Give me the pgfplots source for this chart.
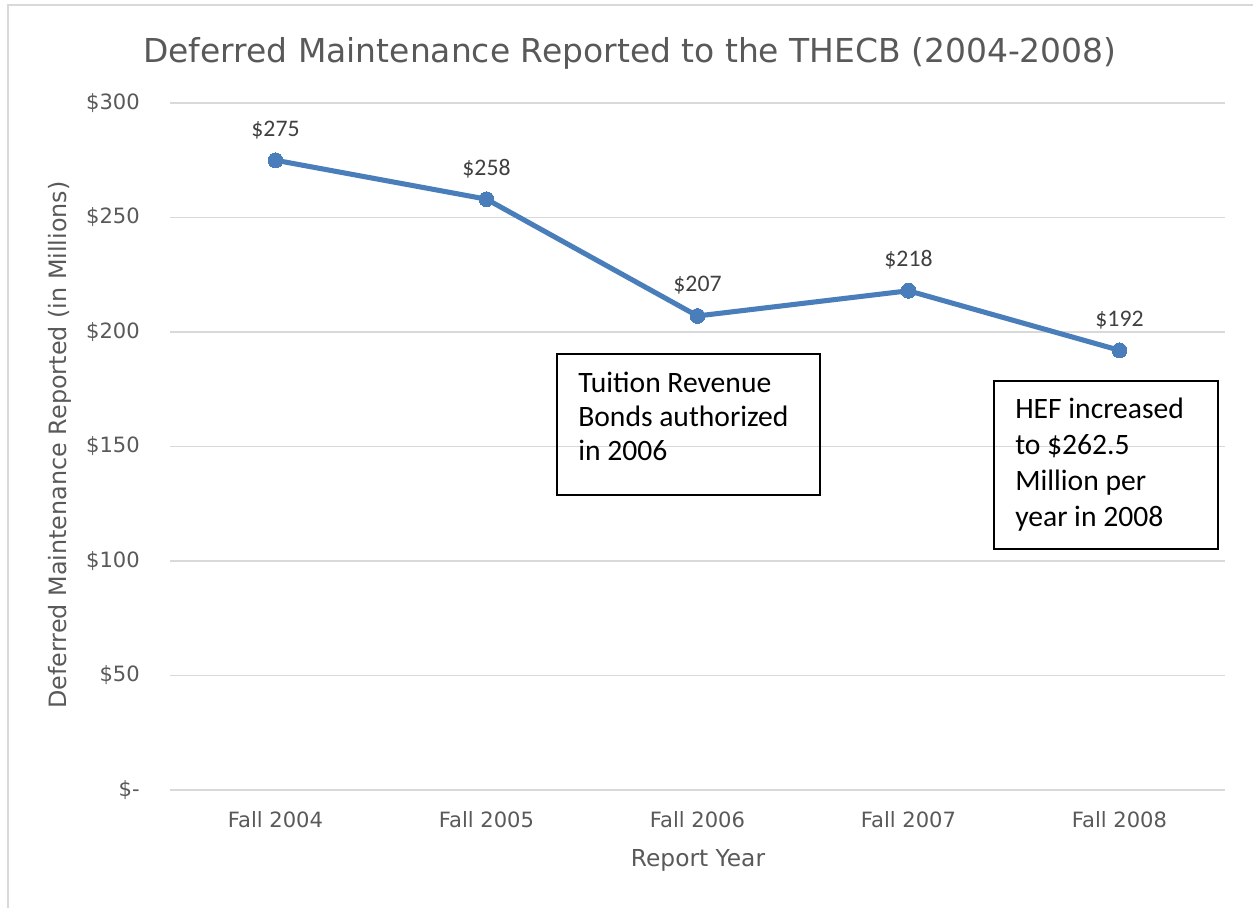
\documentclass[border=0pt]{standalone}
\usepackage{pgfplots}
\pgfplotsset{compat=1.18}
\usepackage{fontspec}
\setmainfont{DejaVu Sans}
\newfontfamily\calfont{Carlito}
\definecolor{lineblue}{RGB}{74,126,187}
\definecolor{txtgray}{RGB}{89,89,89}
\definecolor{lblgray}{RGB}{64,64,64}
\definecolor{gridgray}{RGB}{217,217,217}
\begin{document}
\begin{tikzpicture}
\path[use as bounding box] (0,0) rectangle (939.75pt,680.25pt);
\draw[gridgray, line width=1.2pt] (6pt,-5pt) -- (6pt,676.5pt) -- (945pt,676.5pt);
\node[font=\fontsize{24.7}{29}\selectfont, text=txtgray] at (472.5pt,640.5pt) {Deferred Maintenance Reported to the THECB (2004-2008)};
\node[rotate=90, font=\fontsize{17.9}{21}\selectfont, text=txtgray] at (45pt,346.5pt) {Deferred Maintenance Reported (in Millions)};
\node[font=\fontsize{17.5}{21}\selectfont, text=txtgray] at (523.5pt,35.25pt) {Report Year};
\begin{axis}[
  at={(127.5pt,87.75pt)}, anchor=south west,
  scale only axis, width=791.25pt, height=515.25pt,
  xmin=-0.5, xmax=4.5, ymin=0, ymax=300,
  xtick={0,1,2,3,4},
  xticklabels={Fall 2004,Fall 2005,Fall 2006,Fall 2007,Fall 2008},
  ytick={0,50,100,150,200,250,300},
  yticklabels={\$-,\$50,\$100,\$150,\$200,\$250,\$300},
  ymajorgrids, grid style={gridgray, line width=1.2pt},
  axis line style={draw=none},
  major tick length=0pt,
  /pgf/number format/assume math mode=true,
  ticklabel style={font=\fontsize{15.8}{18}\selectfont, text=txtgray},
  yticklabel style={inner sep=0pt, anchor=east, xshift=-22.5pt},
  xticklabel style={inner sep=0pt, anchor=north, yshift=-16pt},
  clip=false,
]
\addplot[lineblue, line width=3.8pt, mark=*, mark size=5.6pt, mark options={fill=lineblue, draw=lineblue, line width=0pt},
  nodes near coords={\$\pgfmathprintnumber{\pgfplotspointmeta}},
  nodes near coords style={font=\calfont\fontsize{17.8}{20}\selectfont, text=lblgray, anchor=south, inner sep=0pt, yshift=16pt}]
  coordinates {(0,275) (1,258) (2,207) (3,218) (4,192)};
\end{axis}
\draw[black, line width=1.1pt] (417.75pt,414.75pt) rectangle (615pt,309pt);
\node[anchor=north west, inner sep=0pt, align=left, font=\calfont\fontsize{22.2}{25.5}\selectfont] at (433.5pt,401.25pt) {Tuition Revenue\\Bonds authorized\\in 2006};
\draw[black, line width=1.1pt] (745.5pt,394.5pt) rectangle (913.5pt,268.5pt);
\node[anchor=north west, inner sep=0pt, align=left, font=\calfont\fontsize{22.2}{27}\selectfont] at (761.25pt,381.75pt) {HEF increased\\to \$262.5\\Million per\\year in 2008};
\end{tikzpicture}
\end{document}
